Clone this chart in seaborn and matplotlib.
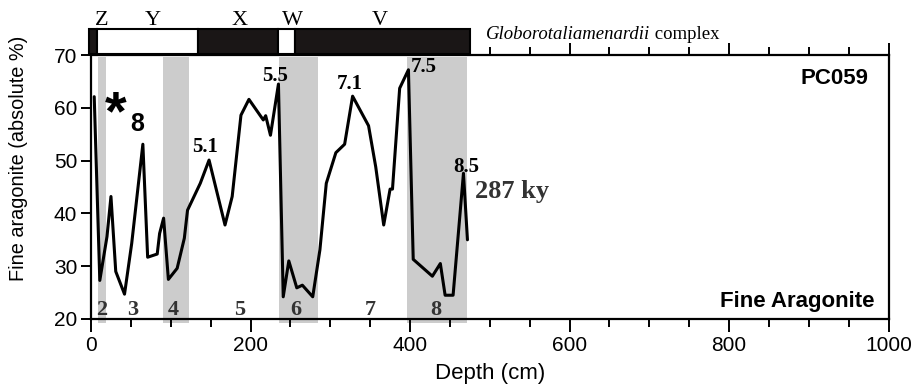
import matplotlib
matplotlib.use("Agg")
import matplotlib.pyplot as plt
import seaborn as sns
import pandas as pd
from matplotlib.patches import Rectangle
from matplotlib.ticker import MultipleLocator

# ---- data ----
depth = [4, 11, 20, 25, 31, 42, 51, 65, 71, 83, 86, 91, 97, 108, 117, 121, 137, 148,
         168, 177, 188, 198, 216, 219, 225, 235, 241, 248, 258, 265, 278, 287, 295,
         307, 318, 328, 348, 357, 367, 375, 378, 387, 398, 404, 428, 438, 444, 454,
         467, 472]
aragonite = [62.1, 27.3, 35.6, 43.2, 29.0, 24.7, 34.3, 53.1, 31.7, 32.3, 36.2, 39.1,
             27.5, 29.6, 35.3, 40.6, 45.7, 50.1, 37.8, 43.2, 58.6, 61.6, 57.7, 58.5,
             54.8, 64.5, 24.2, 31.0, 25.9, 26.4, 24.2, 33.1, 45.7, 51.5, 53.1, 62.2,
             56.6, 48.8, 37.8, 44.6, 44.6, 63.7, 67.2, 31.3, 28.1, 30.5, 24.5, 24.5,
             47.6, 35.0]

band_start = [9, 90, 236, 396]
band_end = [19, 123, 285, 472]

stage_labels = ["2", "3", "4", "5", "6", "7", "8"]
stage_pos = [13, 52, 103, 186, 257, 350, 432]

peak_labels = ["5.1", "5.5", "7.1", "7.5", "8.5"]
peak_x = [143, 231, 324, 417, 470]
peak_y = [52.6, 66.0, 64.6, 67.7, 48.8]

zone_labels = ["Z", "Y", "X", "W", "V"]
zone_pos = [13, 77, 186, 253, 362]
zone_start = [-3, 8, 134, 235, 256]
zone_end = [8, 134, 235, 256, 475]
zone_black = [True, False, True, False, True]

df = pd.DataFrame({"depth": depth, "aragonite": aragonite})

sns.set_style("ticks")
plt.rcParams["font.family"] = ["Liberation Sans", "DejaVu Sans"]
plt.rcParams.update({"text.color": "black", "axes.labelcolor": "black",
                     "xtick.color": "black", "ytick.color": "black",
                     "axes.edgecolor": "black"})

fig = plt.figure(figsize=(9.13, 3.89), dpi=100)
ax = fig.add_axes([0.0997, 0.18, 0.8735, 0.6786])

for s, e in zip(band_start, band_end):
    ax.add_patch(Rectangle((s, 19.2), e - s, 70 - 0.4 - 19.2, facecolor="#cccccc",
                           edgecolor="none", clip_on=False, zorder=0))

sns.lineplot(data=df, x="depth", y="aragonite", ax=ax, color="black", lw=2.2,
             sort=False, estimator=None, zorder=3)

ax.set_xlim(0, 1000)
ax.set_ylim(20, 70)
ax.set_xlabel("Depth (cm)", fontsize=16, labelpad=6)
ax.set_ylabel("Fine aragonite (absolute %)", fontsize=14.3)
ax.yaxis.set_label_coords(-0.079, 0.61)
ax.xaxis.set_major_locator(MultipleLocator(200))
ax.xaxis.set_minor_locator(MultipleLocator(50))
ax.yaxis.set_major_locator(MultipleLocator(10))
ax.tick_params(axis="x", which="major", length=9, width=1.4, labelsize=15,
               direction="out", top=True, pad=3)
ax.tick_params(axis="x", which="minor", length=5.5, width=1.4, direction="out", top=True)
ax.tick_params(axis="y", which="major", length=7, width=1.4, labelsize=15,
               direction="out", pad=3)
for sp in ax.spines.values():
    sp.set_linewidth(1.6)

# zone bar on top
for s, e, b in zip(zone_start, zone_end, zone_black):
    ax.add_patch(Rectangle((s, 70.2), e - s, 4.7, facecolor="#1a1616" if b else "white",
                           edgecolor="black", lw=1.5, clip_on=False, zorder=4))
for lab, x in zip(zone_labels, zone_pos):
    ax.text(x, 74.8, lab, ha="center", va="bottom", fontsize=16,
            family=["Liberation Serif"], clip_on=False)
t1 = ax.text(495, 73.0, "Globorotaliamenardii", fontsize=13.5, style="italic",
             family=["Liberation Serif"], va="baseline", ha="left")
ax.annotate(" complex", xy=(1, 0), xycoords=t1, fontsize=13.5,
            family=["Liberation Serif"], va="bottom", ha="left")

for lab, x in zip(stage_labels, stage_pos):
    ax.text(x, 19.8, lab, ha="center", va="bottom", fontsize=16, fontweight="bold",
            family=["Liberation Serif"], color="#333333")

for lab, x, y in zip(peak_labels, peak_x, peak_y):
    ax.text(x, y, lab, ha="center", va="center", fontsize=15, fontweight="bold",
            family=["Liberation Serif"], zorder=5)

ax.text(481, 44.2, "287 ky", ha="left", va="center", fontsize=19, fontweight="bold",
        family=["Liberation Serif"], color="#333333")
ax.text(31, 58.5, "*", ha="center", va="center", fontsize=40, fontweight="bold")
ax.text(58, 56.9, "8", ha="center", va="center", fontsize=18, fontweight="bold")

ax.text(0.975, 0.91, "PC059", transform=ax.transAxes, ha="right", va="center",
        fontsize=16, fontweight="bold")
ax.text(0.982, 0.065, "Fine Aragonite", transform=ax.transAxes, ha="right",
        va="center", fontsize=16, fontweight="bold")

fig.savefig("out.png", dpi=100)
